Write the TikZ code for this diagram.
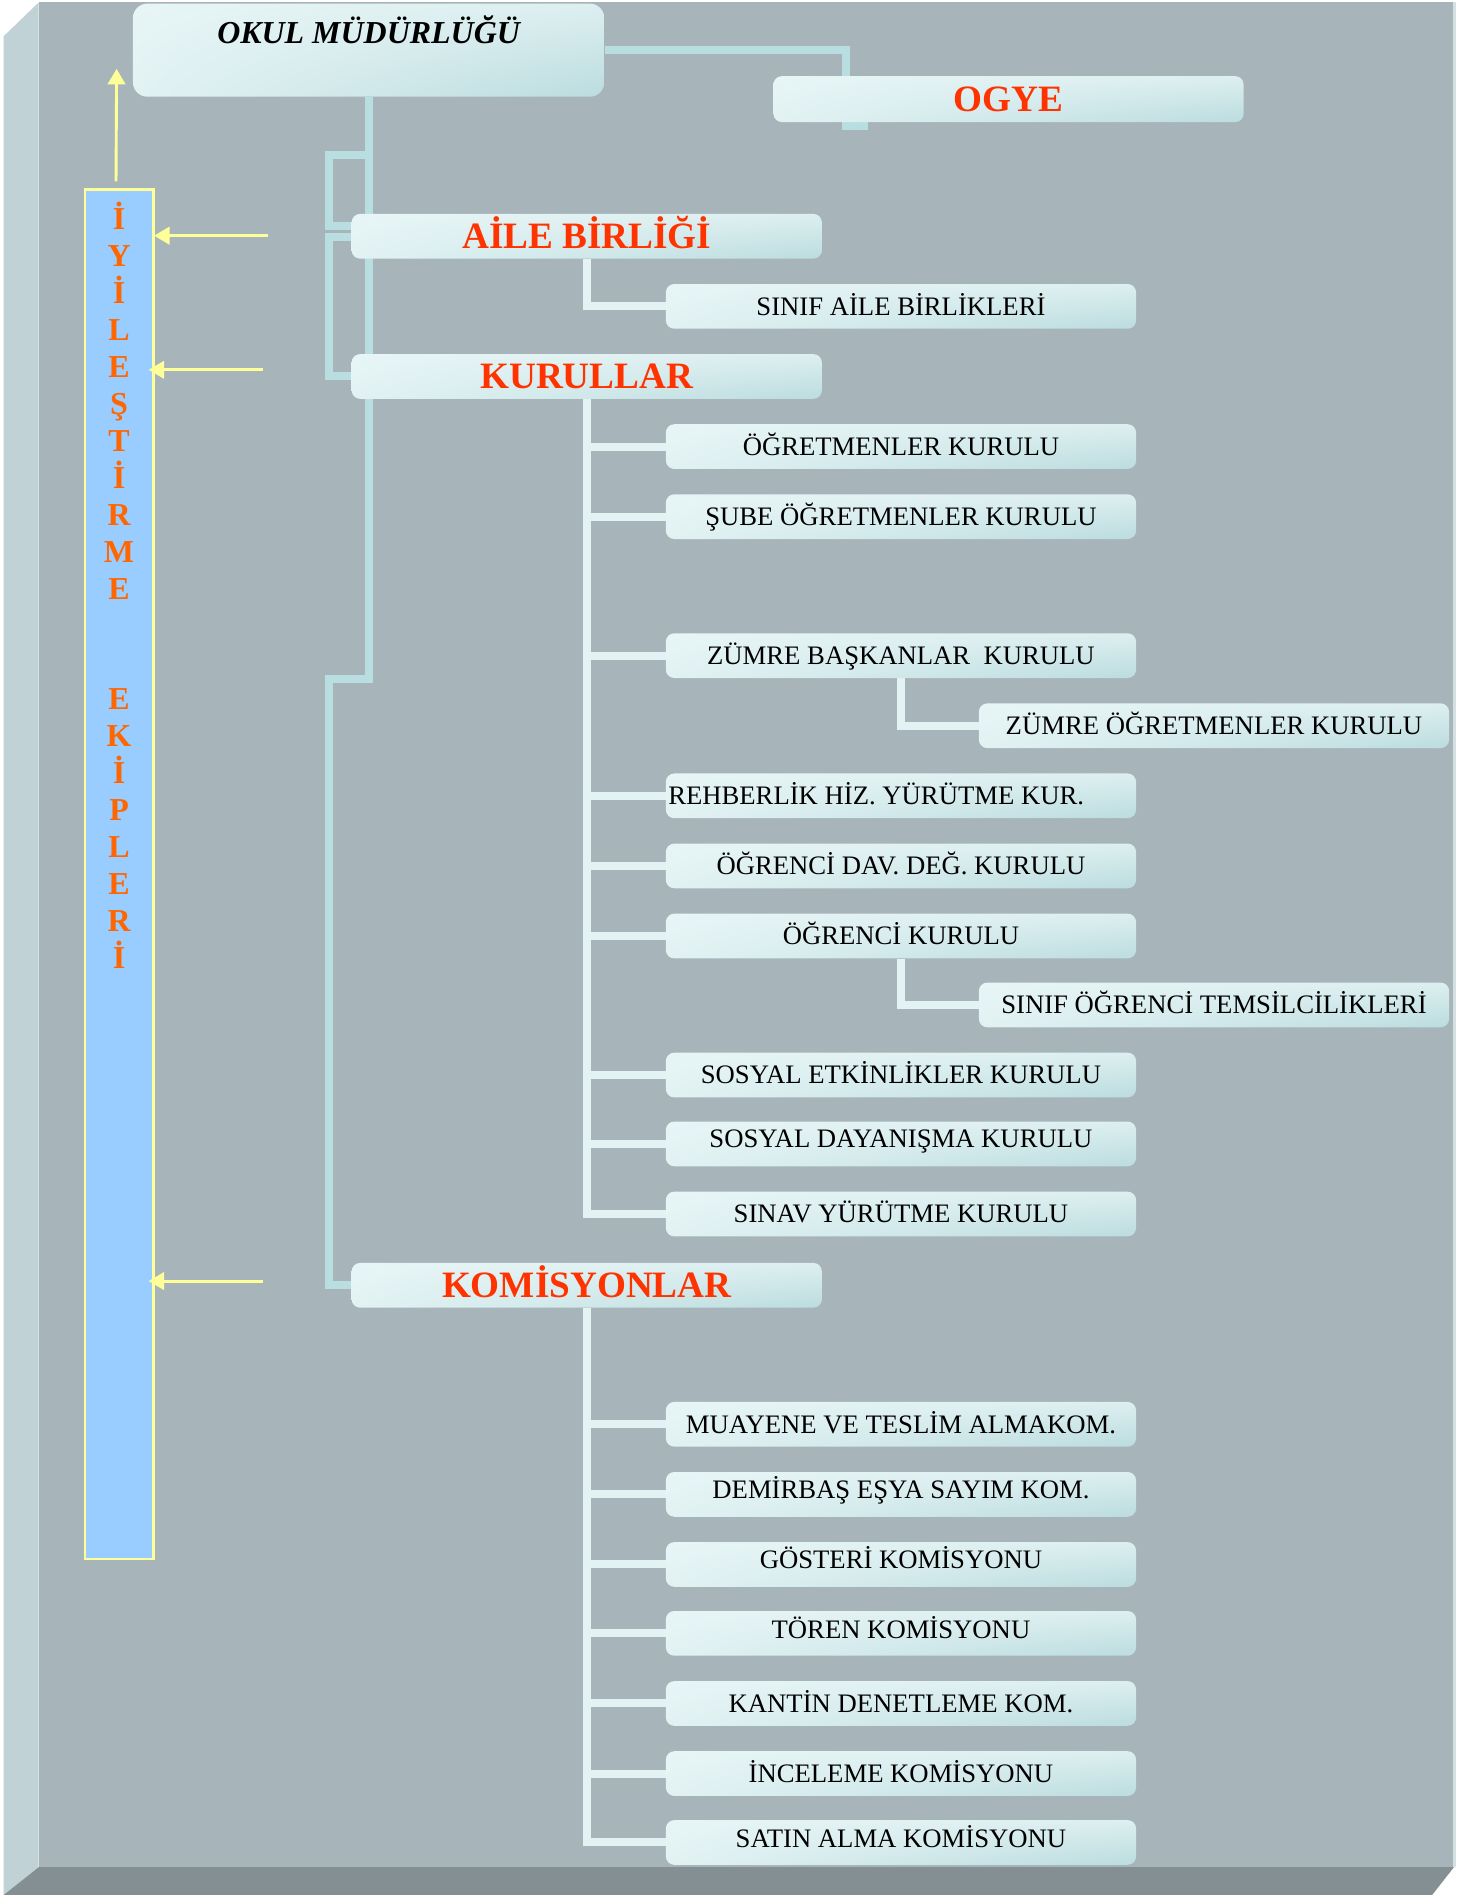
\documentclass[tikz,border=0pt]{standalone}
\usepackage{fontspec}
\setmainfont{Liberation Serif}
\usetikzlibrary{arrows.meta,shadings}
\definecolor{facegray}{HTML}{A7B4BA}
\definecolor{bevelleft}{HTML}{C0D2D6}
\definecolor{bevelbottom}{HTML}{848F93}
\definecolor{edgelight}{HTML}{D5E0E3}
\definecolor{cyanline}{HTML}{B8DEE2}
\definecolor{whiteline}{HTML}{E3F2F3}
\definecolor{boxUL}{HTML}{E7F5F6}
\definecolor{boxUR}{HTML}{DDEFF0}
\definecolor{boxLL}{HTML}{E2F2F3}
\definecolor{boxLR}{HTML}{BBDCDF}
\definecolor{barblue}{HTML}{99CCFF}
\definecolor{yel}{HTML}{FFFF99}
\definecolor{letterorange}{HTML}{FF6600}
\definecolor{titlered}{HTML}{FF3300}
\pgfdeclarelayer{back}
\pgfdeclarelayer{mid}
\pgfsetlayers{back,mid,main}
\begin{document}
\begin{tikzpicture}[x=0.025cm,y=-0.025cm,
  boxbase/.style={rounded corners=0.175cm, upper left=boxUL, upper right=boxUR, lower left=boxLL, lower right=boxLR, inner sep=0pt, minimum width=9.725cm, minimum height=0.925cm},
  titlebox/.style={boxbase, font=\fontsize{21.9}{26}\selectfont\bfseries, text=titlered, text height=14.5pt, text depth=0pt},
  childbox/.style={boxbase, font=\fontsize{15.7}{18}\selectfont, text=black, text height=10.4pt, text depth=0pt},
  trunkline/.style={draw=cyanline, line width=0.165cm, line join=miter},
  branchline/.style={draw=whiteline, line width=0.165cm, line join=miter},
  yarrow/.style={draw=yel, line width=0.06cm, -{Triangle[width=0.36cm,length=0.32cm]}},
  letter/.style={inner sep=0pt, text=letterorange, font=\fontsize{18.8}{22}\selectfont\bfseries, text height=12.4pt, text depth=0pt}
]
\useasboundingbox (0,0) rectangle (1209.7,1568);
% background
\begin{pgfonlayer}{back}
\fill[white] (0,0) rectangle (1209.7,1568);
\fill[bevelleft] (3,30) -- (32,2) -- (32,1545) -- (3,1568) -- cycle;
\fill[facegray] (32,2) rectangle (1202,1545);
\fill[edgelight] (1202,2) rectangle (1205,1545);
\fill[bevelbottom] (32,1545) -- (1203,1545) -- (1185,1568) -- (3,1568) -- cycle;
\end{pgfonlayer}

% boxes
\node[boxbase, rounded corners=0.3cm, minimum width=9.75cm, minimum height=1.925cm,
      font=\fontsize{18.8}{22}\selectfont\bfseries\itshape, text height=12.4pt, text depth=0.725cm]
      (okul) at (305,41.5) {OKUL MÜDÜRLÜĞÜ};
\node[titlebox, minimum height=0.95cm] (ogye) at (834.5,82) {OGYE};
\node[titlebox] (aile) at (485.5,195.5) {AİLE BİRLİĞİ};
\node[titlebox] (kurullar) at (485.5,311.5) {KURULLAR};
\node[titlebox] (kom) at (485.5,1063.5) {KOMİSYONLAR};

\node[childbox] (sinifaile) at (745.5,253.5) {SINIF AİLE BİRLİKLERİ};
\node[childbox] (ogretmenler) at (745.5,369.5) {ÖĞRETMENLER KURULU};
\node[childbox] (sube) at (745.5,427.5) {ŞUBE ÖĞRETMENLER KURULU};
\node[childbox] (zumrebas) at (745.5,542.5) {ZÜMRE BAŞKANLAR\ \ KURULU};
\node[childbox] (zumreogr) at (1004.5,600.5) {ZÜMRE ÖĞRETMENLER KURULU};
\node[childbox] (rehberlik) at (745.5,658.5) {\makebox[9.625cm][l]{REHBERLİK HİZ. YÜRÜTME KUR.}};
\node[childbox] (ogrdav) at (745.5,716.5) {ÖĞRENCİ DAV. DEĞ. KURULU};
\node[childbox] (ogrkurulu) at (745.5,774.5) {ÖĞRENCİ KURULU};
\node[childbox] (sinifogr) at (1004.5,831.5) {SINIF ÖĞRENCİ TEMSİLCİLİKLERİ};
\node[childbox] (sosyalet) at (745.5,889.5) {SOSYAL ETKİNLİKLER KURULU};
\node[childbox] (sosyalday) at (745.5,946.5) {\raisebox{3pt}{SOSYAL DAYANIŞMA KURULU}};
\node[childbox] (sinav) at (745.5,1004.5) {SINAV YÜRÜTME KURULU};

\node[childbox] (muayene) at (745.5,1178.5) {MUAYENE VE TESLİM ALMAKOM.};
\node[childbox] (demirbas) at (745.5,1236.5) {\raisebox{3pt}{DEMİRBAŞ EŞYA SAYIM KOM.}};
\node[childbox] (gosteri) at (745.5,1294.5) {\raisebox{3pt}{GÖSTERİ KOMİSYONU}};
\node[childbox] (toren) at (745.5,1351.5) {\raisebox{2pt}{TÖREN KOMİSYONU}};
\node[childbox] (kantin) at (745.5,1409.5) {KANTİN DENETLEME KOM.};
\node[childbox] (inceleme) at (745.5,1467.5) {İNCELEME KOMİSYONU};
\node[childbox] (satin) at (745.5,1524.5) {\raisebox{2pt}{SATIN ALMA KOMİSYONU}};

% connectors
\begin{pgfonlayer}{mid}
\coordinate (ogyestub) at (718,104);
\draw[trunkline] (okul.east) -| (700,104) -- (ogyestub);
\draw[trunkline] (okul.south) -- (305,562) -| (272,1063.5) -- (kom.west);
\draw[trunkline] (okul.south |- 0,128.5) -| (272,187) -- (aile.west |- 0,187);
\draw[trunkline] (aile.west |- 0,196) -| (272,311.5) -- (kurullar.west);
\draw[branchline] (aile.south) |- (sinifaile.west);
\foreach \n in {ogretmenler,sube,zumrebas,rehberlik,ogrdav,ogrkurulu,sosyalet,sosyalday,sinav}
  \draw[branchline] (kurullar.south) |- (\n.west);
\draw[branchline] (zumrebas.south) |- (zumreogr.west);
\draw[branchline] (ogrkurulu.south) |- (sinifogr.west);
\foreach \n in {muayene,demirbas,gosteri,toren,kantin,inceleme,satin}
  \draw[branchline] (kom.south) |- (\n.west);
\end{pgfonlayer}

% improvement teams bar
\node[draw=yel, line width=0.045cm, fill=barblue, minimum width=1.425cm, minimum height=28.325cm, inner sep=0pt] (bar) at (98.5,723.5) {};
\foreach \l [count=\i from 0] in {İ,Y,İ,L,E,Ş,T,İ,R,M,E}
  \node[letter] (la\i) at (98.5,{181+30.6*\i}) {\l};
\foreach \l [count=\i from 0] in {E,K,İ,P,L,E,R,İ}
  \node[letter] (lb\i) at (98.5,{578.5+30.6*\i}) {\l};

\coordinate (up0) at (96,150);
\coordinate (up1) at (96.5,57);
\draw[yarrow] (up0) -- (up1);
\coordinate (a1s) at (222,195);
\coordinate (a1e) at (127.5,195);
\draw[yarrow] (a1s) -- (a1e);
\coordinate (a2s) at (218,306);
\coordinate (a2e) at (123,306);
\draw[yarrow] (a2s) -- (a2e);
\coordinate (a3s) at (218,1060);
\coordinate (a3e) at (123,1060);
\draw[yarrow] (a3s) -- (a3e);
\end{tikzpicture}
\end{document}
